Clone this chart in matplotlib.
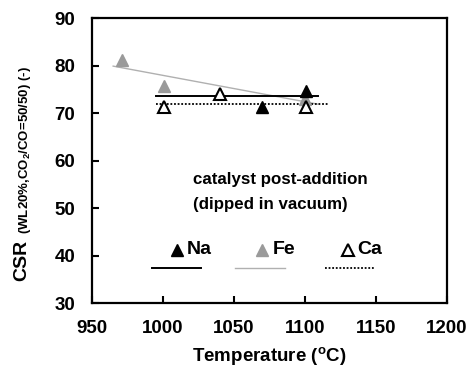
import matplotlib
matplotlib.use("Agg")
import matplotlib.pyplot as plt

plt.rcParams['font.family'] = ['Liberation Sans', 'DejaVu Sans']
plt.rcParams['font.weight'] = 'bold'
plt.rcParams['axes.labelweight'] = 'bold'
plt.rcParams['mathtext.fontset'] = 'custom'
plt.rcParams['mathtext.rm'] = 'Liberation Sans:bold'
plt.rcParams['mathtext.bf'] = 'Liberation Sans:bold'
plt.rcParams['mathtext.default'] = 'bf'

# measured points
na_temp = [1070, 1101]
na_csr = [71.3, 74.7]
fe_temp = [971, 1001, 1100]
fe_csr = [81.2, 75.8, 72.9]
ca_temp = [1001, 1040, 1101]
ca_csr = [71.3, 74.0, 71.3]

# trend lines
na_fit_x = [995, 1109]
na_fit_y = [73.7, 73.7]
fe_fit_x = [965, 1109]
fe_fit_y = [79.9, 71.9]
ca_fit_x = [995, 1117]
ca_fit_y = [72.0, 72.0]

fe_grey = '#9a9a9a'

fig = plt.figure(figsize=(4.71, 3.78), dpi=100)
ax = fig.add_axes([0.195, 0.198, 0.754, 0.754])

ax.plot(fe_fit_x, fe_fit_y, color='#b0b0b0', lw=1.0)
ax.plot(na_fit_x, na_fit_y, color='black', lw=1.4)
ax.plot(ca_fit_x, ca_fit_y, color='black', lw=1.3, ls=(0, (1, 1)))

ax.plot(fe_temp, fe_csr, '^', ms=8, color=fe_grey, mec=fe_grey, ls='none')
ax.plot(na_temp, na_csr, '^', ms=8, color='black', ls='none')
ax.plot(ca_temp, ca_csr, '^', ms=8, mfc='white', mec='black', mew=1.5, ls='none')

# hand-made legend inside the plot
ax.plot([1010], [41.2], '^', ms=8, color='black')
ax.text(1017, 41.2, 'Na', fontsize=14, va='center', ha='left')
ax.plot([992, 1027], [37.4, 37.4], color='black', lw=1.4)
ax.plot([1070], [41.2], '^', ms=8, color=fe_grey, mec=fe_grey)
ax.text(1077, 41.2, 'Fe', fontsize=14, va='center', ha='left')
ax.plot([1051, 1086], [37.4, 37.4], color='#b0b0b0', lw=1.0)
ax.plot([1130], [41.2], '^', ms=8, mfc='white', mec='black', mew=1.5)
ax.text(1137, 41.2, 'Ca', fontsize=14, va='center', ha='left')
ax.plot([1114, 1149], [37.4, 37.4], color='black', lw=1.3, ls=(0, (1, 1)))

ax.text(1021, 56.0, 'catalyst post-addition', fontsize=12.2, ha='left', va='center')
ax.text(1021, 50.8, '(dipped in vacuum)', fontsize=12.2, ha='left', va='center')

ax.set_xlim(950, 1200)
ax.set_ylim(30, 90)
ax.set_xticks([950, 1000, 1050, 1100, 1150, 1200])
ax.set_yticks([30, 40, 50, 60, 70, 80, 90])
ax.tick_params(direction='in', length=5, width=1.5, labelsize=13.5,
               top=False, right=False)
ax.tick_params(axis='x', pad=12)
ax.tick_params(axis='y', pad=12)
for sp in ax.spines.values():
    sp.set_linewidth(1.6)

ax.set_xlabel('Temperature ($^{o}$C)', fontsize=13.5, fontweight='bold', labelpad=6)

fig.text(22 / 471, 1 - 281 / 378, 'CSR', rotation=90, fontsize=14,
         ha='center', va='bottom')
fig.text(25 / 471, 1 - 234 / 378, '(WL20%,CO$_{2}$/CO=50/50) (-)', rotation=90,
         fontsize=9.5, ha='center', va='bottom')

fig.savefig('out.png', dpi=100)
